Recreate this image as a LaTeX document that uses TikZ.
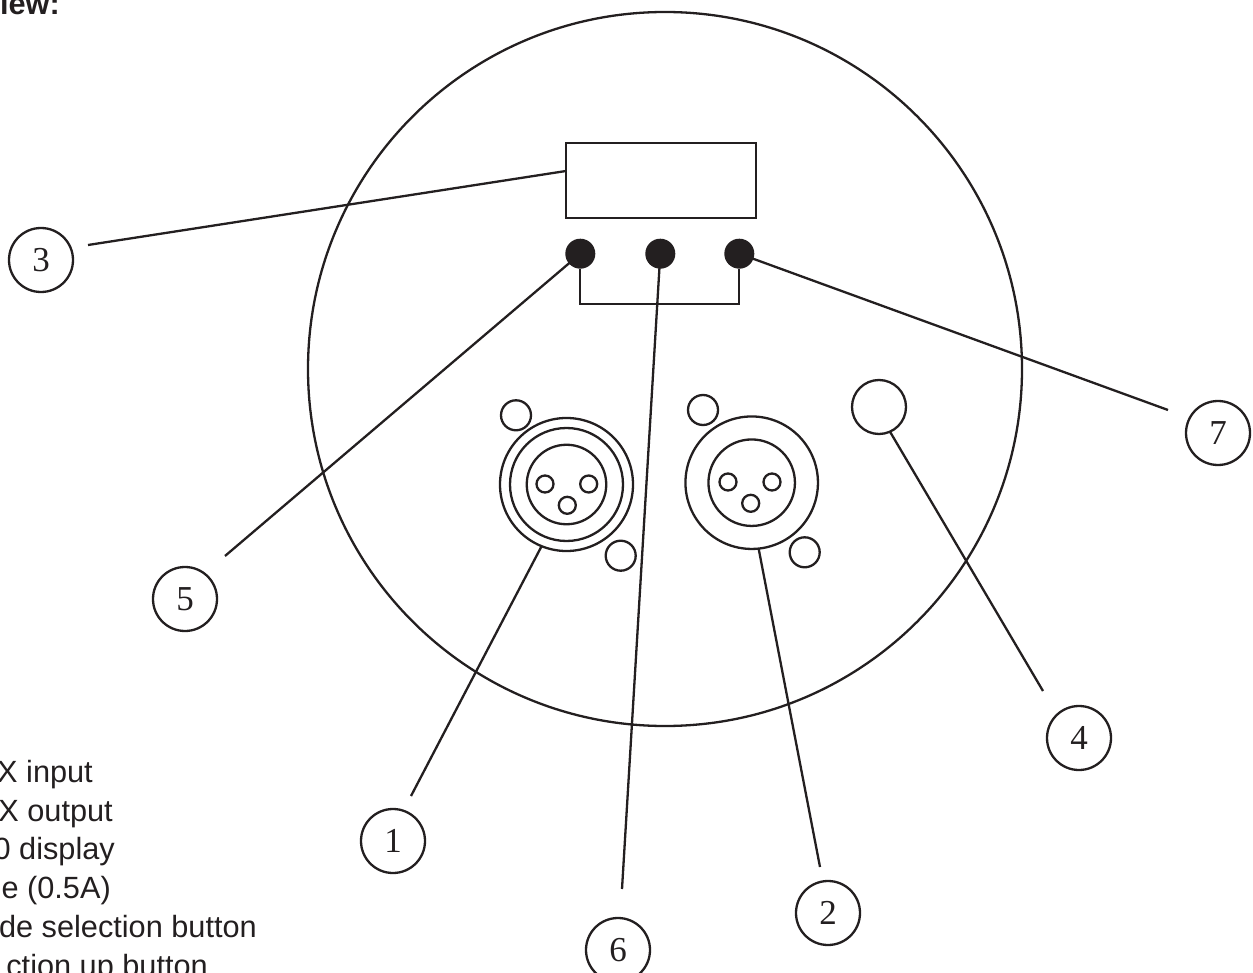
\documentclass[tikz,border=0pt]{standalone}
\usepackage{fontspec}
\setmainfont{Liberation Sans}
\newfontfamily\numfont{Liberation Serif}
\definecolor{ink}{HTML}{231F20}
\tikzset{
  ring/.style={circle,draw=ink,line width=2.3pt,inner sep=0pt,outer sep=0pt,minimum size=#1},
  knob/.style={circle,fill=ink,draw=none,inner sep=0pt,outer sep=0pt,minimum size=30pt},
  callout/.style={circle,draw=ink,line width=2.3pt,inner sep=0pt,outer sep=0pt,minimum size=64pt,font=\numfont\fontsize{35}{35}\selectfont,text=ink},
  legend/.style={anchor=base east,inner sep=0pt,text=ink,font=\fontsize{30.7}{30.7}\selectfont},
  title/.style={anchor=base east,inner sep=0pt,text=ink,font=\bfseries\fontsize{30.7}{30.7}\selectfont},
  leader/.style={draw=ink,line width=2.3pt}
}
\begin{document}
\begin{tikzpicture}[x=1pt,y=-1pt]
\useasboundingbox (0,0) rectangle (1253,973);
\clip (0,0) rectangle (1253,973);
% body
\node[ring=714pt] (body) at (665,369) {};
% display
\node[draw=ink,line width=2.3pt,inner sep=0pt,outer sep=0pt,minimum width=189.7pt,minimum height=74.7pt] (disp) at (660.8,180.7) {};
% buttons
\node[knob] (b5) at (580.3,253.7) {};
\node[knob] (b6) at (660.3,253.7) {};
\node[knob] (b7) at (739.3,253.7) {};
\draw[leader] (b5.south) -- ++(0,35.6) -| (b7.south);
% DMX input
\node[ring=133pt] (inA) at (566.5,484.5) {};
\node[ring=113pt] (inB) at (566.5,484.5) {};
\node[ring=79.5pt] (inC) at (566.5,484.5) {};
\node[ring=17pt] (inP1) at (545,484) {};
\node[ring=17pt] (inP2) at (588.7,484) {};
\node[ring=17pt] (inP3) at (567.3,505.3) {};
\node[ring=30pt] (inS1) at (516,415.3) {};
\node[ring=30pt] (inS2) at (620.7,555.7) {};
% DMX output
\node[ring=132.5pt] (outA) at (751.7,482.7) {};
\node[ring=86.5pt] (outC) at (751.7,482.7) {};
\node[ring=17pt] (outP1) at (728,482) {};
\node[ring=17pt] (outP2) at (772,482) {};
\node[ring=17pt] (outP3) at (750.7,503.3) {};
\node[ring=30pt] (outS1) at (703,410) {};
\node[ring=30pt] (outS2) at (804.7,552.3) {};
% fuse
\node[ring=54pt] (fuse) at (879,407) {};
% callouts
\node[callout] (n3) at (41,260) {3};
\node[callout] (n5) at (185,599) {5};
\node[callout] (n1) at (393,841) {1};
\node[callout] (n6) at (618,950) {6};
\node[callout] (n2) at (828,913) {2};
\node[callout] (n4) at (1079,738) {4};
\node[callout] (n7) at (1218,433) {7};
% free ends
\coordinate (e3) at (88,245);
\coordinate (e5) at (225,556);
\coordinate (e1) at (411,796);
\coordinate (e6) at (622,889);
\coordinate (e2) at (820,867);
\coordinate (e4) at (1043,691);
\coordinate (e7) at (1168,410);
\draw[leader] (e3) -- ([yshift=9.7pt]disp.west);
\draw[leader] (e5) -- (b5.center);
\draw[leader] (e1) -- (inA.248);
\draw[leader] (e6) -- (b6.center);
\draw[leader] (e2) -- (outA.276);
\draw[leader] (e4) -- (fuse.294);
\draw[leader] (e7) -- (b7.center);
% texts
\node[title] (t0) at (60,15) {iew:};
\node[legend] (l1) at (93,782) {X input};
\node[legend] (l2) at (113,821) {X output};
\node[legend] (l3) at (115,859) {0 display};
\node[legend] (l4) at (111,898) {e (0.5A)};
\node[legend] (l5) at (257,937) {de selection button};
\node[legend] (l6) at (208,976) {ction up button};
\end{tikzpicture}
\end{document}
